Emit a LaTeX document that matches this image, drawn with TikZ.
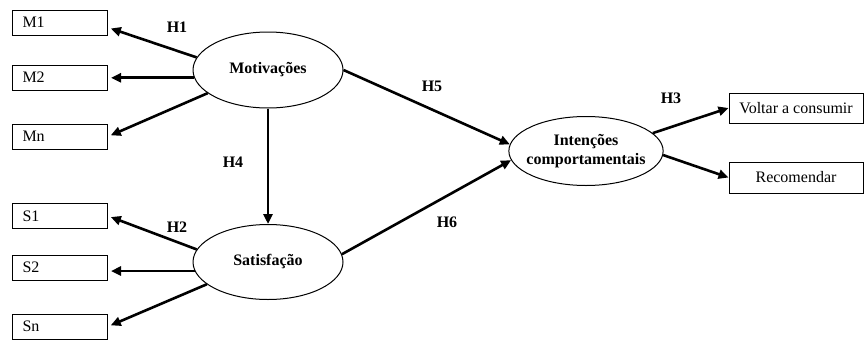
\documentclass[tikz,border=0pt]{standalone}
\usepackage{fontspec}
\setmainfont{Liberation Serif}
\usetikzlibrary{shapes.geometric, arrows.meta}

\begin{document}
\begin{tikzpicture}
		[x=1pt, y=-1pt, font=\fontsize{16}{19.5}\selectfont,
		 ind/.style={draw, line width=1pt, minimum height=25pt, text width=75pt, inner xsep=10pt, inner ysep=0pt, align=left, anchor=west},
		 outd/.style={draw, line width=1pt, minimum width=134pt, minimum height=30pt, inner sep=0pt},
		 latent/.style={draw, ellipse, line width=1pt, inner sep=0pt, font=\fontsize{16}{19.5}\selectfont\bfseries, align=center},
		 effect/.style={line width=2.6pt, -{Triangle[length=10pt, width=9pt]}},
		 hyp/.style={font=\fontsize{16}{19.5}\selectfont\bfseries}]
		\useasboundingbox (0, 0) rectangle (864, 343);
		\node[ind] (m1) at (12, 22.5) {M1};
		\node[ind] (m2) at (12, 77.5) {M2};
		\node[ind] (mn) at (12, 136.5) {Mn};
		\node[ind] (s1) at (12, 216) {S1};
		\node[ind] (s2) at (12, 267.5) {S2};
		\node[ind] (sn) at (12, 326.5) {Sn};
		\node[latent, minimum width=150pt, minimum height=76pt] (mot) at (268, 70) {Motivações};
		\node[latent, minimum width=150pt, minimum height=75pt] (sat) at (268, 262) {Satisfação};
		\node[latent, minimum width=153pt, minimum height=69pt, inner xsep=-5pt] (int) at (586, 151) {Intenções\\comportamentais};
		\node[outd] (vol) at (796, 108) {Voltar a consumir};
		\node[outd, minimum height=31pt] (rec) at (796, 177.5) {Recomendar};

		\draw[effect, shorten >=3pt] (mot.170) -- (m1.-6);
		\draw[effect, shorten >=3pt] (mot.186) -- (mot.186 -| m2.east);
		\draw[effect, shorten >=3pt] (mot.201) -- (mn.east);
		\draw[effect, shorten >=3pt] (sat.170) -- (s1.east);
		\draw[effect, shorten >=3pt] (sat.187) -- (sat.187 -| s2.east);
		\draw[effect, shorten >=3pt] (sat.200) -- (sn.east);
		\draw[effect] (mot.south) -- (sat.north);
		\draw[effect] (mot.east) -- (int.175);
		\draw[effect] (sat.6) -- (int.187);
		\draw[effect] (int.15) -- (vol.west);
		\draw[effect] (int.357) -- (rec.west);

		\node[hyp] (h1) at (177, 27) {H1};
		\node[hyp] (h2) at (177, 227) {H2};
		\node[hyp] (h3) at (671, 98) {H3};
		\node[hyp] (h4) at (233, 162) {H4};
		\node[hyp] (h5) at (432, 86) {H5};
		\node[hyp] (h6) at (447, 222) {H6};
	\end{tikzpicture}
\end{document}
